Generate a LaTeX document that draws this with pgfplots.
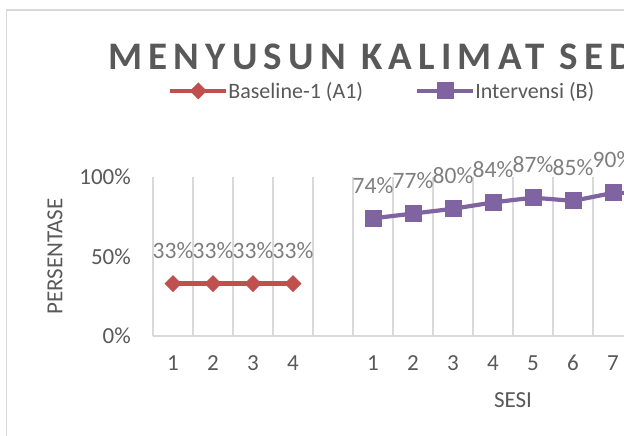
\documentclass[border=0pt]{standalone}
\usepackage{fontspec}
\setmainfont{Carlito}
\newfontfamily\titlefont[LetterSpace=16]{Carlito}
\usepackage{pgfplots}
\pgfplotsset{compat=1.18}

\definecolor{baseRed}{HTML}{C0504D}
\definecolor{intPurple}{HTML}{8064A2}
\definecolor{gridGray}{HTML}{D9D9D9}
\definecolor{txtGray}{HTML}{595959}
\definecolor{lblGray}{HTML}{7F7F7F}
\newcommand\fsz[1]{\fontsize{#1pt}{#1pt}\selectfont}

\begin{document}
\begin{tikzpicture}
% the reference is cut off on the right: keep only the visible window
\path[use as bounding box, clip] (0pt,0pt) rectangle (624pt,436pt);
\fill[white] (0pt,0pt) rectangle (624pt,436pt);
\draw[gridGray, line width=1.5pt] (6.5pt,-20pt) -- (6.5pt,426pt) -- (800pt,426pt);
\node[anchor=base west, inner sep=0pt, text=txtGray, font=\titlefont\bfseries\fsz{39}]
  at (108pt,366pt) {MENYUSUN KALIMAT SEDERHANA};

\begin{axis}[
  scale only axis,
  width=720pt, height=159pt,
  at={(153pt,100pt)}, anchor=south west,
  xmin=0.5, xmax=18.5, ymin=0, ymax=100,
  clip=false,
  axis line style={draw=none},
  xtick={1,2,3,4,6,7,8,9,10,11,12,13},
  xticklabels={1,2,3,4,1,2,3,4,5,6,7,8},
  minor xtick={0.5,1.5,...,18.5},
  xminorgrids=true,
  minor grid style={gridGray, line width=1.5pt},
  ytick={0,50,100},
  yticklabels={0\%,50\%,100\%},
  extra y ticks={0},
  extra y tick labels={},
  extra y tick style={grid=major, major grid style={gridGray, line width=1.5pt}},
  major tick length=0pt, minor tick length=0pt,
  tick label style={font=\fsz{23}, text=txtGray, inner sep=0pt},
  xticklabel style={anchor=center, yshift=-27pt},
  yticklabel style={anchor=east, xshift=-22pt},
  xlabel={SESI}, ylabel={PERSENTASE},
  label style={font=\fsz{23}, text=txtGray},
  xlabel style={at={(axis description cs:0.5,-0.4025)}, anchor=center},
  ylabel style={at={(axis description cs:-0.1361,0.5)}, anchor=center},
  /pgf/number format/assume math mode=true,
  point meta=y,
  nodes near coords={\pgfmathprintnumber{\pgfplotspointmeta}\%},
  every node near coord/.append style={font=\fsz{23.5}, text=lblGray, anchor=base, yshift=25pt, inner sep=0pt},
  legend columns=2,
  legend style={at={(axis description cs:0.0208,1.541)}, anchor=west,
    draw=none, fill=none, inner sep=0pt, font=\fsz{22}, text=txtGray,
    nodes={inner sep=0pt},
    /tikz/every odd column/.append style={column sep=0pt},
    /tikz/every even column/.append style={column sep=52pt}},
  legend image code/.code={\draw[mark repeat=2, mark phase=2, #1]
    plot coordinates {(0pt,0pt) (28pt,0pt) (56pt,0pt)};},
]
\addplot[baseRed, line width=4.2pt, mark=square*, mark size=5.5pt,
  mark options={solid, rotate=45, line width=1pt}] coordinates {
  (1,33) (2,33) (3,33) (4,33)
};
\addlegendentry{Baseline-1 (A1)}
\addplot[intPurple, line width=4.2pt, mark=square*, mark size=8pt,
  mark options={solid, line width=1pt}] coordinates {
  (6,74) (7,77) (8,80) (9,84) (10,87) (11,85) (12,90) (13,90)
};
\addlegendentry{Intervensi (B)}
\end{axis}
\end{tikzpicture}
\end{document}
